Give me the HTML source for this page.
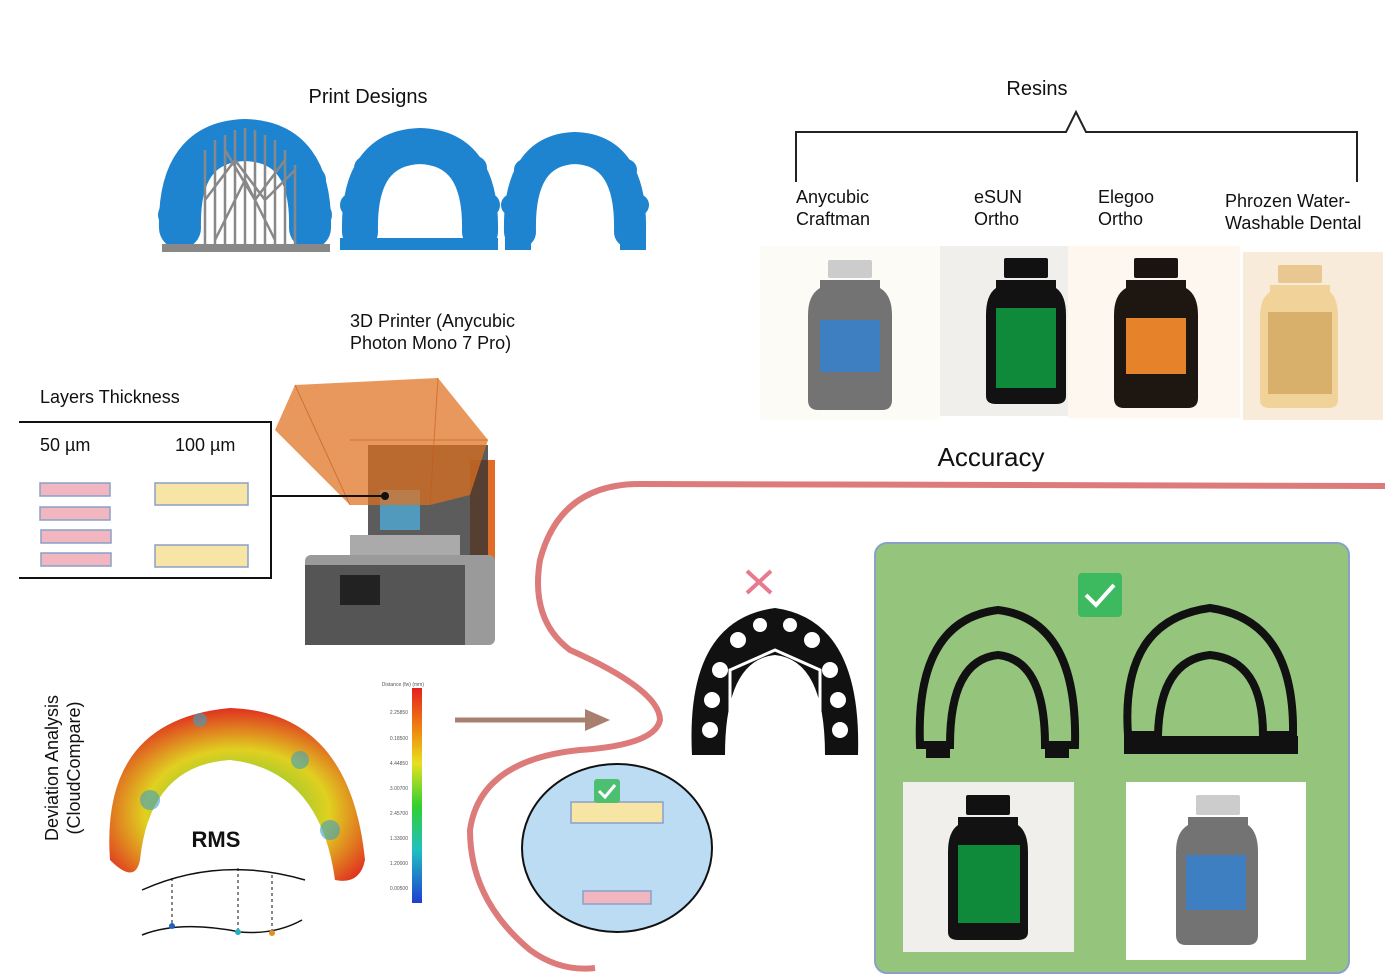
<!DOCTYPE html>
<html><head><meta charset="utf-8"><style>
body{margin:0;background:#fff;}
svg{display:block;font-family:"Liberation Sans",Arial,sans-serif;}
</style></head><body>
<svg width="1400" height="980" viewBox="0 0 1400 980" xmlns="http://www.w3.org/2000/svg">
<defs>
<linearGradient id="cb" x1="0" y1="0" x2="0" y2="1">
<stop offset="0" stop-color="#e52020"/><stop offset="0.2" stop-color="#f08a10"/><stop offset="0.35" stop-color="#e8e020"/><stop offset="0.55" stop-color="#30d030"/><stop offset="0.75" stop-color="#20c0c0"/><stop offset="1" stop-color="#2040d0"/>
</linearGradient>
<radialGradient id="heat" cx="0.5" cy="0.6" r="0.6"><stop offset="0" stop-color="#40c040"/><stop offset="0.6" stop-color="#e0d020"/><stop offset="1" stop-color="#e03020"/></radialGradient>
</defs>

<!-- Print designs -->
<text x="368" y="103" font-size="20" text-anchor="middle" fill="#111">Print Designs</text>
<g fill="none" stroke="#1f84d0" stroke-linecap="round">
<path d="M180 228 Q178 142 245 140 Q312 142 310 228" stroke-width="42"/>
<path d="M360 232 Q358 148 420 146 Q482 148 480 232" stroke-width="36"/>
<path d="M520 232 Q518 150 575 148 Q632 150 630 232" stroke-width="32"/>
</g>
<g fill="#1f84d0">
<circle cx="172" cy="215" r="14"/><circle cx="180" cy="180" r="14"/><circle cx="200" cy="150" r="14"/><circle cx="290" cy="150" r="14"/><circle cx="312" cy="180" r="14"/><circle cx="318" cy="215" r="14"/>
<circle cx="352" cy="205" r="12"/><circle cx="366" cy="168" r="12"/><circle cx="475" cy="168" r="12"/><circle cx="488" cy="205" r="12"/>
<circle cx="512" cy="205" r="11"/><circle cx="525" cy="170" r="11"/><circle cx="626" cy="170" r="11"/><circle cx="638" cy="205" r="11"/>
<rect x="340" y="238" width="158" height="12"/>
<rect x="505" y="232" width="26" height="18"/><rect x="620" y="232" width="26" height="18"/>
</g>
<g stroke="#888" stroke-width="2.5" fill="none">
<path d="M205 250 L205 150 M215 250 L215 140 M225 250 L225 135 M235 250 L235 130 M245 250 L245 128 M255 250 L255 130 M265 250 L265 135 M275 250 L275 140 M285 250 L285 150 M295 250 L295 165 M205 200 L235 160 L265 200 L295 170 M215 240 L245 180 L275 240 M225 150 L255 200 L285 160"/>
</g>
<rect x="162" y="244" width="168" height="8" fill="#888"/>

<!-- Resins -->
<text x="1037" y="95" font-size="20" text-anchor="middle" fill="#111">Resins</text>
<path d="M796 182 L796 132 L1066 132 L1076 112 L1086 132 L1357 132 L1357 182" fill="none" stroke="#222" stroke-width="2"/>
<g font-size="18" fill="#111">
<text x="796" y="203">Anycubic</text><text x="796" y="225">Craftman</text>
<text x="974" y="203">eSUN</text><text x="974" y="225">Ortho</text>
<text x="1098" y="203">Elegoo</text><text x="1098" y="225">Ortho</text>
<text x="1225" y="207">Phrozen Water-</text><text x="1225" y="229">Washable Dental</text>
</g>
<rect x="760" y="246" width="180" height="174" fill="#fdfbf6"/>
<rect x="940" y="246" width="128" height="170" fill="#f1efeb"/>
<rect x="1068" y="246" width="172" height="172" fill="#fdf7f0"/>
<rect x="1243" y="252" width="140" height="168" fill="#f8ebd9"/>
<rect x="828" y="260" width="44" height="18" rx="2" fill="#ccc"/>
<path d="M820 280 L880 280 L880 288 Q892 295 892 315 L892 400 Q892 410 882 410 L818 410 Q808 410 808 400 L808 315 Q808 295 820 288Z" fill="#737373"/>
<rect x="820" y="320" width="60" height="52" fill="#3d7fc0"/>
<rect x="1004" y="258" width="44" height="20" rx="2" fill="#111"/>
<path d="M996 280 L1056 280 L1056 288 Q1066 295 1066 315 L1066 396 Q1066 404 1056 404 L996 404 Q986 404 986 396 L986 315 Q986 295 996 288Z" fill="#121212"/>
<rect x="996" y="308" width="60" height="80" fill="#0e8a3a"/>
<rect x="1134" y="258" width="44" height="20" rx="2" fill="#1a1410"/>
<path d="M1126 280 L1186 280 L1186 288 Q1198 295 1198 315 L1198 398 Q1198 408 1188 408 L1124 408 Q1114 408 1114 398 L1114 315 Q1114 295 1126 288Z" fill="#1e1611"/>
<rect x="1126" y="318" width="60" height="56" fill="#e5822a"/>
<rect x="1278" y="265" width="44" height="18" rx="2" fill="#e8c890"/>
<path d="M1270 285 L1330 285 L1330 292 Q1338 298 1338 318 L1338 400 Q1338 408 1328 408 L1270 408 Q1260 408 1260 400 L1260 318 Q1260 298 1270 292Z" fill="#f1d399"/>
<rect x="1268" y="312" width="64" height="82" fill="#d8b06c"/>

<!-- printer -->
<text x="350" y="327" font-size="18" fill="#111">3D Printer (Anycubic</text>
<text x="350" y="349" font-size="18" fill="#111">Photon Mono 7 Pro)</text>
<rect x="470" y="460" width="25" height="105" fill="#e06c28"/>
<rect x="368" y="445" width="120" height="110" fill="#333" opacity="0.8"/>
<rect x="305" y="555" width="190" height="90" rx="6" fill="#9a9a9a"/>
<rect x="305" y="565" width="160" height="80" fill="#555"/>
<rect x="340" y="575" width="40" height="30" fill="#222"/>
<rect x="350" y="535" width="110" height="20" fill="#aaa"/>
<rect x="380" y="490" width="40" height="40" fill="#4fb4e8" opacity="0.7"/>
<path d="M275 430 L295 385 L438 378 L488 440 L470 495 L430 505 L350 505 Z" fill="#e0701e" opacity="0.72"/>
<path d="M295 385 L350 505 M438 378 L430 505 M350 440 L488 440" stroke="#c05a18" stroke-width="1" opacity="0.6"/>
<!-- layers -->
<text x="40" y="403" font-size="18" fill="#111">Layers Thickness</text>
<path d="M19 422 L271 422 L271 578 L19 578" fill="none" stroke="#111" stroke-width="2"/>
<text x="40" y="451" font-size="18" fill="#111">50 µm</text>
<text x="175" y="451" font-size="18" fill="#111">100 µm</text>
<g fill="#f2b6c0" stroke="#8aa0c8" stroke-width="1.5">
<rect x="40" y="483" width="70" height="13"/><rect x="40" y="507" width="70" height="13"/><rect x="41" y="530" width="70" height="13"/><rect x="41" y="553" width="70" height="13"/>
</g>
<g fill="#f7e5a6" stroke="#8aa0c8" stroke-width="1.5">
<rect x="155" y="483" width="93" height="22"/><rect x="155" y="545" width="93" height="22"/>
</g>
<line x1="271" y1="496" x2="385" y2="496" stroke="#111" stroke-width="2"/>
<circle cx="385" cy="496" r="4" fill="#111"/>

<!-- Accuracy -->
<text x="991" y="466" font-size="26" text-anchor="middle" fill="#111">Accuracy</text>
<path d="M1385 486 L640 484 Q560 484 540 560 Q530 620 570 650 Q660 690 660 720 Q655 745 580 750 Q480 760 470 830 Q470 900 530 950 Q560 972 595 968" fill="none" stroke="#dd7a7a" stroke-width="6"/>

<!-- deviation -->
<text transform="translate(58,768) rotate(-90)" font-size="18" text-anchor="middle" fill="#111">Deviation Analysis</text>
<text transform="translate(80,768) rotate(-90)" font-size="18" text-anchor="middle" fill="#111">(CloudCompare)</text>
<path d="M110 860 Q100 720 230 708 Q350 712 365 860 Q360 885 335 880 Q320 770 230 760 Q150 765 140 860 Q135 885 110 860Z" fill="url(#heat)"/>
<g fill="#3da0c0" opacity="0.6"><circle cx="150" cy="800" r="10"/><circle cx="300" cy="760" r="9"/><circle cx="330" cy="830" r="10"/><circle cx="200" cy="720" r="7"/></g>
<text x="216" y="847" font-size="22" font-weight="bold" text-anchor="middle" fill="#111">RMS</text>
<path d="M142 890 Q220 855 305 880" fill="none" stroke="#111" stroke-width="1.5"/>
<path d="M142 935 Q180 920 240 932 Q275 935 302 920" fill="none" stroke="#111" stroke-width="1.5"/>
<g stroke="#111" stroke-dasharray="3,3"><line x1="172" y1="878" x2="172" y2="926"/><line x1="238" y1="868" x2="238" y2="932"/><line x1="272" y1="875" x2="272" y2="933"/></g>
<circle cx="172" cy="926" r="3" fill="#2060c0"/><circle cx="238" cy="932" r="3" fill="#20b0c0"/><circle cx="272" cy="933" r="3" fill="#e09020"/>
<rect x="412" y="688" width="10" height="215" fill="url(#cb)"/>
<g font-size="5" fill="#555" text-anchor="end"><text x="424" y="686">Distance (fw) (mm)</text>
<text x="408" y="714">2.25850</text><text x="408" y="740">0.18500</text><text x="408" y="765">4.44850</text><text x="408" y="790">3.00700</text><text x="408" y="815">2.45700</text><text x="408" y="840">1.33000</text><text x="408" y="865">1.20000</text><text x="408" y="890">0.00500</text></g>
<line x1="455" y1="720" x2="590" y2="720" stroke="#a88070" stroke-width="5"/>
<path d="M585 709 L610 720 L585 731Z" fill="#a88070"/>

<!-- circle -->
<ellipse cx="617" cy="848" rx="95" ry="84" fill="#bcdcf4" stroke="#111" stroke-width="2"/>
<rect x="571" y="802" width="92" height="21" fill="#f7e5a6" stroke="#8aa0c8" stroke-width="1.5"/>
<rect x="583" y="891" width="68" height="13" fill="#f2b6c0" stroke="#8aa0c8" stroke-width="1.5"/>
<rect x="594" y="779" width="26" height="24" rx="3" fill="#4cc070"/>
<path d="M599 791 L605 797 L615 785" fill="none" stroke="#fff" stroke-width="3"/>

<!-- X & black arch -->
<path d="M747 571 L771 593 M771 571 L747 593" stroke="#e87a90" stroke-width="4"/>
<path d="M692 755 Q685 620 775 608 Q862 620 858 755 L825 755 Q825 660 775 655 Q725 660 725 755Z" fill="#111"/>
<g fill="#fff"><circle cx="712" cy="700" r="8"/><circle cx="720" cy="670" r="8"/><circle cx="738" cy="640" r="8"/><circle cx="760" cy="625" r="7"/><circle cx="790" cy="625" r="7"/><circle cx="812" cy="640" r="8"/><circle cx="830" cy="670" r="8"/><circle cx="838" cy="700" r="8"/><circle cx="710" cy="730" r="8"/><circle cx="840" cy="730" r="8"/></g>
<path d="M730 755 L730 670 L775 650 L820 670 L820 755 M740 755 L760 690 L790 755 M775 660 L775 755 M810 690 L760 755" stroke="#fff" stroke-width="3" fill="none"/>

<!-- green panel -->
<rect x="875" y="543" width="474" height="430" rx="12" fill="#95c47d" stroke="#8aa0c8" stroke-width="2"/>
<rect x="1078" y="573" width="44" height="44" rx="4" fill="#3dba60"/>
<path d="M1086 595 L1096 605 L1114 585" fill="none" stroke="#fff" stroke-width="4"/>
<path d="M920 745 Q915 620 998 610 Q1078 620 1075 745 L1045 745 Q1045 660 998 655 Q950 660 950 745Z" fill="none" stroke="#111" stroke-width="8"/>
<rect x="926" y="745" width="24" height="13" fill="#111"/><rect x="1045" y="745" width="24" height="13" fill="#111"/>
<path d="M1128 735 Q1120 620 1210 608 Q1295 620 1293 735 L1263 735 Q1263 660 1210 655 Q1160 660 1158 735Z" fill="none" stroke="#111" stroke-width="8"/>
<rect x="1124" y="736" width="174" height="18" fill="#111"/>
<rect x="903" y="782" width="171" height="170" fill="#f1efeb"/>
<rect x="1126" y="782" width="180" height="178" fill="#fff"/>
<rect x="966" y="795" width="44" height="20" rx="2" fill="#111"/>
<path d="M958 817 L1018 817 L1018 825 Q1028 832 1028 852 L1028 932 Q1028 940 1018 940 L958 940 Q948 940 948 932 L948 852 Q948 832 958 825Z" fill="#121212"/>
<rect x="958" y="845" width="62" height="78" fill="#0e8a3a"/>
<rect x="1196" y="795" width="44" height="20" rx="2" fill="#ccc"/>
<path d="M1188 817 L1248 817 L1248 825 Q1258 832 1258 852 L1258 935 Q1258 945 1248 945 L1186 945 Q1176 945 1176 935 L1176 852 Q1176 832 1188 825Z" fill="#737373"/>
<rect x="1186" y="855" width="60" height="55" fill="#3d7fc0"/>
</svg>
</body></html>
